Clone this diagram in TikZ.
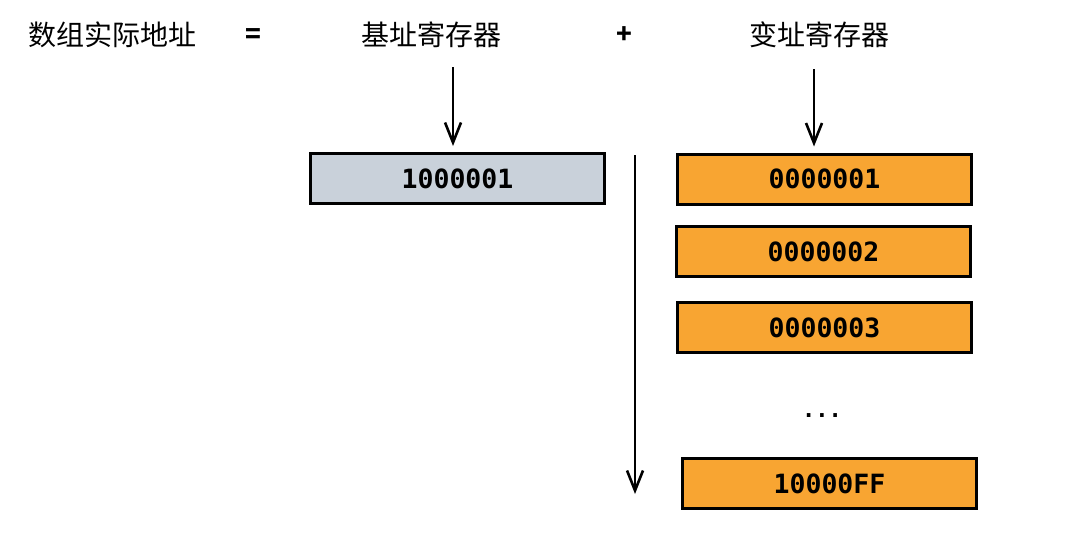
\documentclass[tikz,border=0pt]{standalone}
\usepackage{fontspec}
\usetikzlibrary{arrows.meta}
\newfontfamily\cjk{Noto Sans CJK SC}
\newfontfamily\monob{DejaVu Sans Mono}
\definecolor{basegray}{HTML}{C9D1DA}
\definecolor{regorange}{HTML}{F8A532}
\tikzset{
  lbl/.style={inner sep=0pt, font=\cjk\fontsize{28}{34}\selectfont},
  op/.style={inner sep=0pt, font=\cjk\bfseries\fontsize{26}{30}\selectfont},
  reg/.style={draw=black, line width=3pt, inner sep=0pt, minimum width=294pt, minimum height=50pt,
    font=\monob\bfseries\fontsize{26.5}{30}\selectfont},
  basereg/.style={reg, fill=basegray},
  idxreg/.style={reg, fill=regorange},
  arr/.style={line width=2.6pt, -{Straight Barb[length=20pt,width=16pt,line width=2.6pt]}},
}
\begin{document}
\begin{tikzpicture}[x=1pt,y=-1pt]
\useasboundingbox (0,0) rectangle (1067,535);
\node[lbl] (t1) at (112,35) {数组实际地址};
\node[op] (eq) at (253,36) {=};
\node[lbl] (t2) at (431,35) {基址寄存器};
\node[op] (plus) at (624.5,35) {+};
\node[lbl] (t3) at (819,35) {变址寄存器};
\node[basereg] (base) at (457.5,178.5) {1000001};
\node[idxreg] (o1) at (824.5,179) {0000001};
\node[idxreg] (o2) at (823.5,251.5) {0000002};
\node[idxreg] (o3) at (824.5,327.5) {0000003};
\node[inner sep=0pt, font=\monob\bfseries\fontsize{22}{26}\selectfont] (dots) at (822,416) {...};
\node[idxreg] (o4) at (829.5,483.5) {10000FF};
\coordinate (a1s) at (453,67);
\coordinate (a2s) at (814,69);
\coordinate (vs) at (635,155);
\coordinate (ve) at (635,494);
\draw[arr, shorten >=6pt] (a1s) -- (a1s |- base.north);
\draw[arr, shorten >=6pt] (a2s) -- (a2s |- o1.north);
\draw[arr] (vs) -- (ve);
\end{tikzpicture}
\end{document}
